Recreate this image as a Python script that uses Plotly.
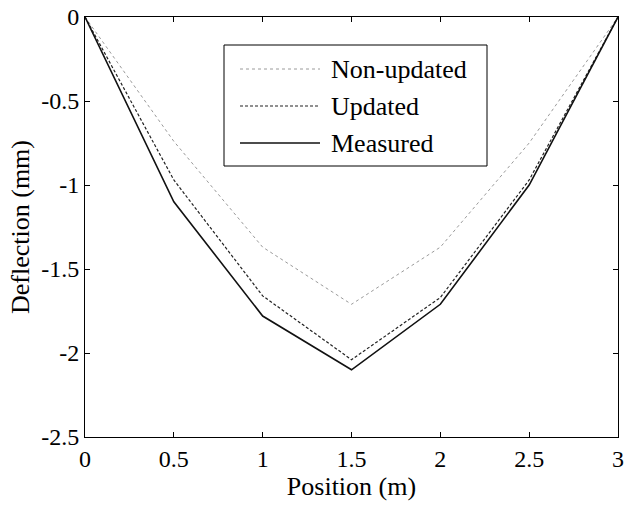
import plotly.graph_objects as go

position = [0, 0.5, 1, 1.5, 2, 2.5, 3]
non_updated = [0, -0.74, -1.37, -1.71, -1.37, -0.75, 0]
updated = [0, -0.97, -1.66, -2.04, -1.67, -0.97, 0]
measured = [0, -1.10, -1.78, -2.10, -1.71, -1.00, 0]

FONT = "Liberation Serif"

series = [("Non-updated", non_updated, dict(color="#9a9a9a", width=1, dash="dot")),
          ("Updated", updated, dict(color="#222222", width=1.2, dash="3px,2px")),
          ("Measured", measured, dict(color="#111111", width=1.6))]

fig = go.Figure()
for name, ys, ln in series:
    fig.add_trace(go.Scatter(x=position, y=ys, mode="lines", name=name, line=ln, showlegend=False))

# plot area in page pixels (body margin is removed below)
L, R, T, B = 85, 618, 17, 437
px = lambda x: (x - L) / (R - L)
py = lambda y: (B - y) / (B - T)

# hand-drawn legend box (MATLAB style, long line samples)
fig.add_shape(type="rect", xref="paper", yref="paper", x0=px(224), x1=px(487), y0=py(166), y1=py(45),
              line=dict(color="black", width=1), fillcolor="white", layer="above")
for (name, ys, ln), row in zip(series, [69, 106, 143]):
    fig.add_shape(type="line", xref="paper", yref="paper", x0=px(240), x1=px(320), y0=py(row), y1=py(row),
                  line=ln, layer="above")
    fig.add_annotation(xref="paper", yref="paper", x=px(329), y=py(row), text=name, showarrow=False,
                       xanchor="left", yanchor="middle", font=dict(family=FONT, size=26, color="black"))

ax = dict(showline=True, linecolor="black", linewidth=1, mirror="ticks", ticks="inside", ticklen=5,
          tickcolor="black", showgrid=False, zeroline=False, ticklabeloverflow="allow", automargin=False,
          tickfont=dict(family=FONT, size=24, color="black"))
fig.update_xaxes(range=[0, 3], tickvals=[0, 0.5, 1, 1.5, 2, 2.5, 3], ticktext=["0", "0.5", "1", "1.5", "2", "2.5", "3"],
                 title=dict(text="Position (m)", font=dict(family=FONT, size=26, color="black"), standoff=4), **ax)
fig.update_yaxes(range=[-2.5, 0], tickvals=[0, -0.5, -1, -1.5, -2, -2.5], ticktext=["0", "-0.5", "-1", "-1.5", "-2", "-2.5"],
                 title=dict(text="Deflection (mm)", font=dict(family=FONT, size=26, color="black"), standoff=4), **ax)
fig.update_layout(width=626, height=510, margin=dict(l=L, r=626 - R, t=T, b=510 - B, autoexpand=False),
                  plot_bgcolor="white", paper_bgcolor="white", font=dict(family=FONT))
fig.write_html("out.html", config={"displayModeBar": False},
               post_script="document.body.style.margin='0';")
